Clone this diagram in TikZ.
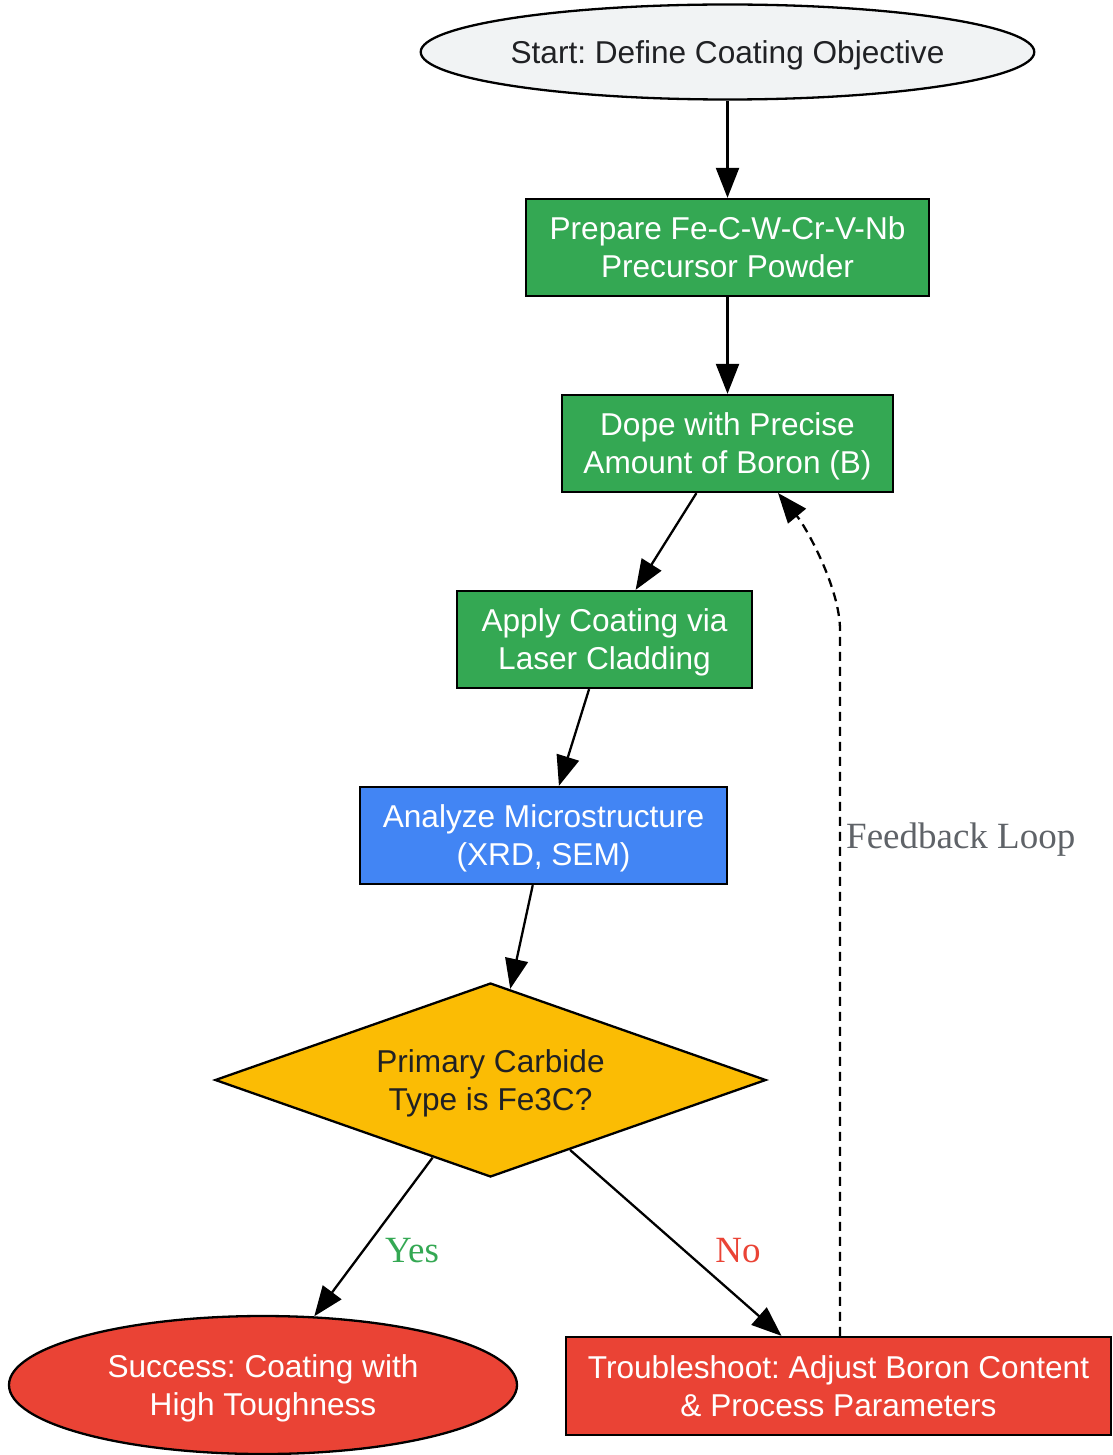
\documentclass[tikz,border=0pt]{standalone}
\usepackage{fontspec}
\setmainfont{Liberation Sans}
\newfontfamily\lblfont{Liberation Serif}
\usetikzlibrary{arrows.meta,shapes.geometric}
\definecolor{gGreen}{HTML}{34A853}
\definecolor{gBlue}{HTML}{4285F4}
\definecolor{gYellow}{HTML}{FBBC04}
\definecolor{gRed}{HTML}{EA4335}
\definecolor{gGray}{HTML}{F1F3F4}
\definecolor{gDark}{HTML}{202124}
\definecolor{gLabel}{HTML}{5F6368}
\frenchspacing
\begin{document}
\begin{tikzpicture}[x=1pt,y=-1pt,
  base/.style={draw=black,line width=2.3pt,inner sep=0pt,align=center,
    font=\fontsize{31.6}{38}\selectfont,text height=60.6pt,text depth=0pt},
  oneline/.style={text height=22.6pt,text depth=0pt},
  procbox/.style={base,rectangle,fill=gGreen,text=white},
  flow/.style={line width=2.3pt,-{Triangle[length=30pt,width=23pt]}},
  elabel/.style={font=\lblfont\fontsize{37}{44}\selectfont}]
\useasboundingbox (0,0) rectangle (1112,1455);
\node[base,oneline,ellipse,fill=gGray,text=gDark,minimum width=611pt,minimum height=95pt] (start) at (727.5,52) {Start: Define Coating Objective};
\node[procbox,minimum width=403pt,minimum height=97pt] (prep) at (727.5,247.5) {Prepare Fe-C-W-Cr-V-Nb\\Precursor Powder};
\node[procbox,minimum width=331pt,minimum height=97pt] (dope) at (727.5,443.5) {Dope with Precise\\Amount of Boron (B)};
\node[procbox,minimum width=295pt,minimum height=97pt] (apply) at (604.5,639.5) {Apply Coating via\\Laser Cladding};
\node[base,rectangle,fill=gBlue,text=white,minimum width=367pt,minimum height=97pt] (analyze) at (543.5,835.5) {Analyze Microstructure\\(XRD, SEM)};
\node[base,diamond,aspect=2.84,fill=gYellow,text=gDark,minimum width=551pt,minimum height=194pt] (dec) at (490.5,1080) {Primary Carbide\\Type is Fe3C?};
\node[base,ellipse,fill=gRed,text=white,minimum width=508pt,minimum height=138pt] (succ) at (263,1385) {Success: Coating with\\High Toughness};
\node[base,rectangle,fill=gRed,text=white,minimum width=545pt,minimum height=98pt] (trouble) at (838.5,1386) {Troubleshoot: Adjust Boron Content\\\& Process Parameters};

\draw[flow] (start) -- (prep);
\draw[flow] (prep) -- (dope);
\draw[flow] (dope) -- (apply);
\draw[flow] (apply) -- (analyze);
\draw[flow] (analyze) -- (dec);
\draw[flow] (dec) -- (succ);
\draw[flow] (dec) -- (trouble);

\node[elabel,text=gGreen] (yes) at (412,1251) {Yes};
\node[elabel,text=gRed] (no) at (738,1251) {No};

\coordinate (fbs) at ([xshift=1.5pt]trouble.north);
\coordinate (fbm) at (840,630);
\coordinate (fbe) at (778,493);
\draw[flow,dashed,dash pattern=on 9pt off 6pt] (fbs) -- (fbm) .. controls (840,588) and (806,527) .. (fbe);
\node[elabel,text=gLabel,anchor=west,inner sep=0pt] (fbl) at (846,840) {Feedback Loop};
\end{tikzpicture}
\end{document}
